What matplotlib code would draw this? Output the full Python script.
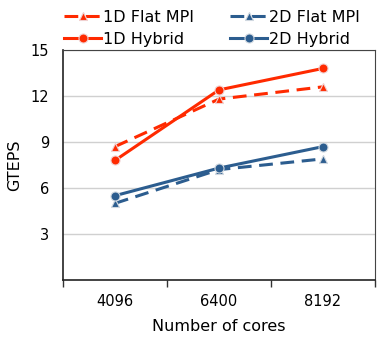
import matplotlib.pyplot as plt
import numpy as np

cores = ['4096', '6400', '8192']
flat_1d = [8.7, 11.8, 12.6]
hybrid_1d = [7.8, 12.4, 13.8]
flat_2d = [5.0, 7.2, 7.9]
hybrid_2d = [5.5, 7.3, 8.7]

RED = '#ff2a00'
BLUE = '#2c5d8f'

plt.rcParams['font.family'] = ['DejaVu Sans']

fig = plt.figure(figsize=(3.9, 3.38), dpi=100)
ax = fig.add_axes([0.1615, 0.1716, 0.8, 0.6804])

x = np.arange(len(cores))
dash = (0, (4.5, 2.5))
l1, = ax.plot(x, flat_1d, color=RED, lw=2.2, ls=dash, marker='^', ms=6,
              mec='#f0d0d0', mew=0.8, label='1D Flat MPI')
l2, = ax.plot(x, flat_2d, color=BLUE, lw=2.2, ls=dash, marker='^', ms=6,
              mec='#d0d8e0', mew=0.8, label='2D Flat MPI')
l3, = ax.plot(x, hybrid_1d, color=RED, lw=2.2, marker='o', ms=6.5,
              mec='#f0d0d0', mew=0.8, label='1D Hybrid')
l4, = ax.plot(x, hybrid_2d, color=BLUE, lw=2.2, marker='o', ms=6.5,
              mec='#d0d8e0', mew=0.8, label='2D Hybrid')

ax.set_xlim(-0.5, 2.5)
ax.set_ylim(0, 15)
ax.set_yticks([3, 6, 9, 12, 15])
ax.set_xticks(x)
ax.set_xticklabels(cores)
ax.set_xticks([-0.5, 0.5, 1.5, 2.5], minor=True)
ax.tick_params(axis='x', which='major', length=0, pad=10, labelsize=10.5)
ax.tick_params(axis='x', which='minor', length=5, width=1, color='#333333')
ax.tick_params(axis='y', length=0, pad=10, labelsize=10.5)
ax.yaxis.grid(True, color='#d0d0d0', lw=1)
ax.set_axisbelow(True)

for s in ['left', 'bottom']:
    ax.spines[s].set_color('#222222')
    ax.spines[s].set_linewidth(1.2)
for s in ['top', 'right']:
    ax.spines[s].set_color('#444444')
    ax.spines[s].set_linewidth(0.8)

ax.set_xlabel('Number of cores', fontsize=11.5, labelpad=7)
ax.set_ylabel('GTEPS', fontsize=11.5, labelpad=6)

fig.legend(handles=[l1, l3, l2, l4], ncol=2, loc='upper left',
           bbox_to_anchor=(0.14, 1.0), frameon=False, fontsize=11.5,
           handlelength=2.3, handletextpad=0.1, columnspacing=2.3,
           labelspacing=0.45, borderaxespad=0.2)

fig.savefig('out.png', dpi=100)
